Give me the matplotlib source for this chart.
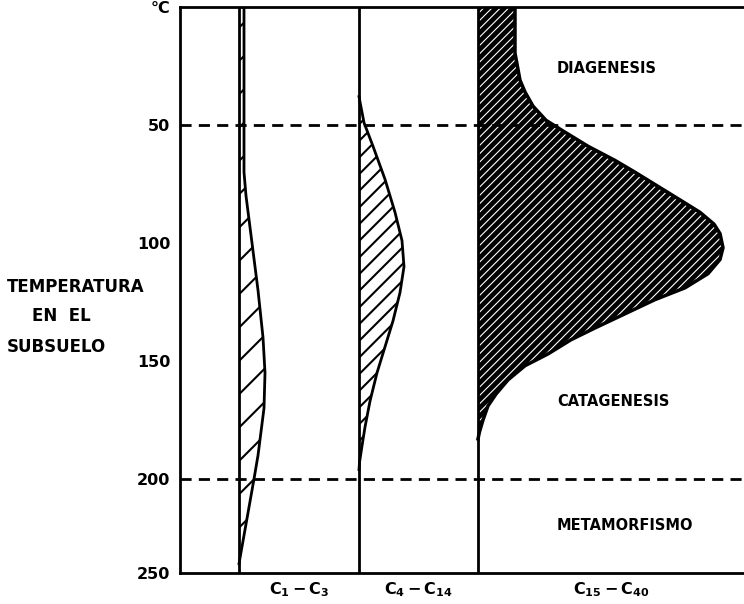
import numpy as np
import matplotlib
matplotlib.use("Agg")
import matplotlib.pyplot as plt

# temperatura (°C) y ancho relativo de cada curva
t_c1 = [0, 30, 60, 70, 80, 100, 120, 140, 155, 170, 180, 190, 200, 215, 230, 245]
w_c1 = [5, 5, 5, 5, 7, 13, 19, 24, 26, 25, 22, 19, 15, 10, 5, 0]

t_c4 = [38, 49, 59, 73, 87, 99, 110, 121, 133, 144, 155, 167, 178, 186, 193, 196]
w_c4 = [0, 5, 14, 26, 36, 43, 45, 41, 34, 26, 18, 11, 6, 3, 0.5, 0]

t_c15 = [0, 5.5, 19.5, 31, 36, 42, 48, 52, 59, 65, 70, 76, 82, 87, 92, 96, 102, 107, 113,
         119, 124, 130, 136, 141, 147, 152, 158, 164, 169, 175, 180, 183]
w_c15 = [37, 37, 37, 42, 47, 55, 68, 83, 110, 137, 157, 180, 203, 222, 236, 242, 245, 242, 230,
         207, 177, 147, 117, 93, 70, 47, 30, 18, 10, 5, 1.5, 0]

col_labels = [r'$\mathbf{C_{1}-C_{3}}$', r'$\mathbf{C_{4}-C_{14}}$', r'$\mathbf{C_{15}-C_{40}}$']
zones = ["DIAGENESIS", "CATAGENESIS", "METAMORFISMO"]
zone_t = [26, 167, 225]
limits = [50, 200]
yticks = [0, 50, 100, 150, 200, 250]
ytick_labels = ["°C", "50", "100", "150", "200", "250"]


def fwd(t):
    t = np.asarray(t, dtype=float)
    return np.where(t <= 200, t, 200 + (t - 200) * 94 / 118)


def inv(y):
    y = np.asarray(y, dtype=float)
    return np.where(y <= 200, y, 200 + (y - 200) * 118 / 94)


fig = plt.figure(figsize=(7.44, 6.04), dpi=100)
ax = fig.add_axes([180 / 744, 31 / 604, 600 / 744, 566 / 604])
ax.set_yscale('function', functions=(fwd, inv))
ax.set_xlim(0, 600)
ax.set_ylim(250, 0)

bases = [59, 179, 298]

# columnas verticales
for b in bases:
    ax.plot([b, b], [0, 250], color='black', lw=2, solid_capstyle='butt')

# C1-C3 y C4-C14: rayado negro
with plt.rc_context({'hatch.linewidth': 1.5}):
    for tt, ww, b, h in [(t_c1, w_c1, bases[0], '/'), (t_c4, w_c4, bases[1], '//')]:
        tt = np.array(tt)
        ww = np.array(ww)
        ax.fill_betweenx(tt, b, b + ww, facecolor='white', edgecolor='black', hatch=h, linewidth=0)
        ax.plot(b + ww, tt, color='black', lw=2)

# C15-C40: negro con rayado blanco fino
with plt.rc_context({'hatch.linewidth': 0.8}):
    tt = np.array(t_c15)
    ww = np.array(w_c15)
    ax.fill_betweenx(tt, bases[2], bases[2] + ww, facecolor='black', edgecolor='white',
                     hatch='////', linewidth=0)
ax.plot(bases[2] + ww, tt, color='black', lw=2.5, solid_joinstyle='round')

# lineas de limite
for lim in limits:
    ax.plot([0, 600], [lim, lim], color='black', lw=2, dashes=(4, 2.6))

for z, zt in zip(zones, zone_t):
    ax.text(377, zt, z, fontsize=10.5, fontweight='bold', ha='left', va='center')

for lab, b, e in zip(col_labels, bases, [179, 298, 564]):
    ax.text((b + e) / 2, 259, lab, fontsize=11.5, ha='center', va='center')

ax.set_yticks(yticks)
ax.set_yticklabels(ytick_labels, fontsize=11.5, fontweight='bold')
ax.yaxis.set_minor_locator(matplotlib.ticker.NullLocator())
ax.tick_params(axis='y', length=0, pad=7)
ax.set_xticks([])
ax.spines['right'].set_visible(False)
for s in ['left', 'top', 'bottom']:
    ax.spines[s].set_linewidth(2)

fig.text(7 / 744, 1 - 287 / 604, "TEMPERATURA", fontsize=12, fontweight='bold', va='center')
fig.text(32 / 744, 1 - 316 / 604, "EN  EL", fontsize=12, fontweight='bold', va='center')
fig.text(7 / 744, 1 - 347 / 604, "SUBSUELO", fontsize=12, fontweight='bold', va='center')

fig.savefig("out.png", dpi=100)
